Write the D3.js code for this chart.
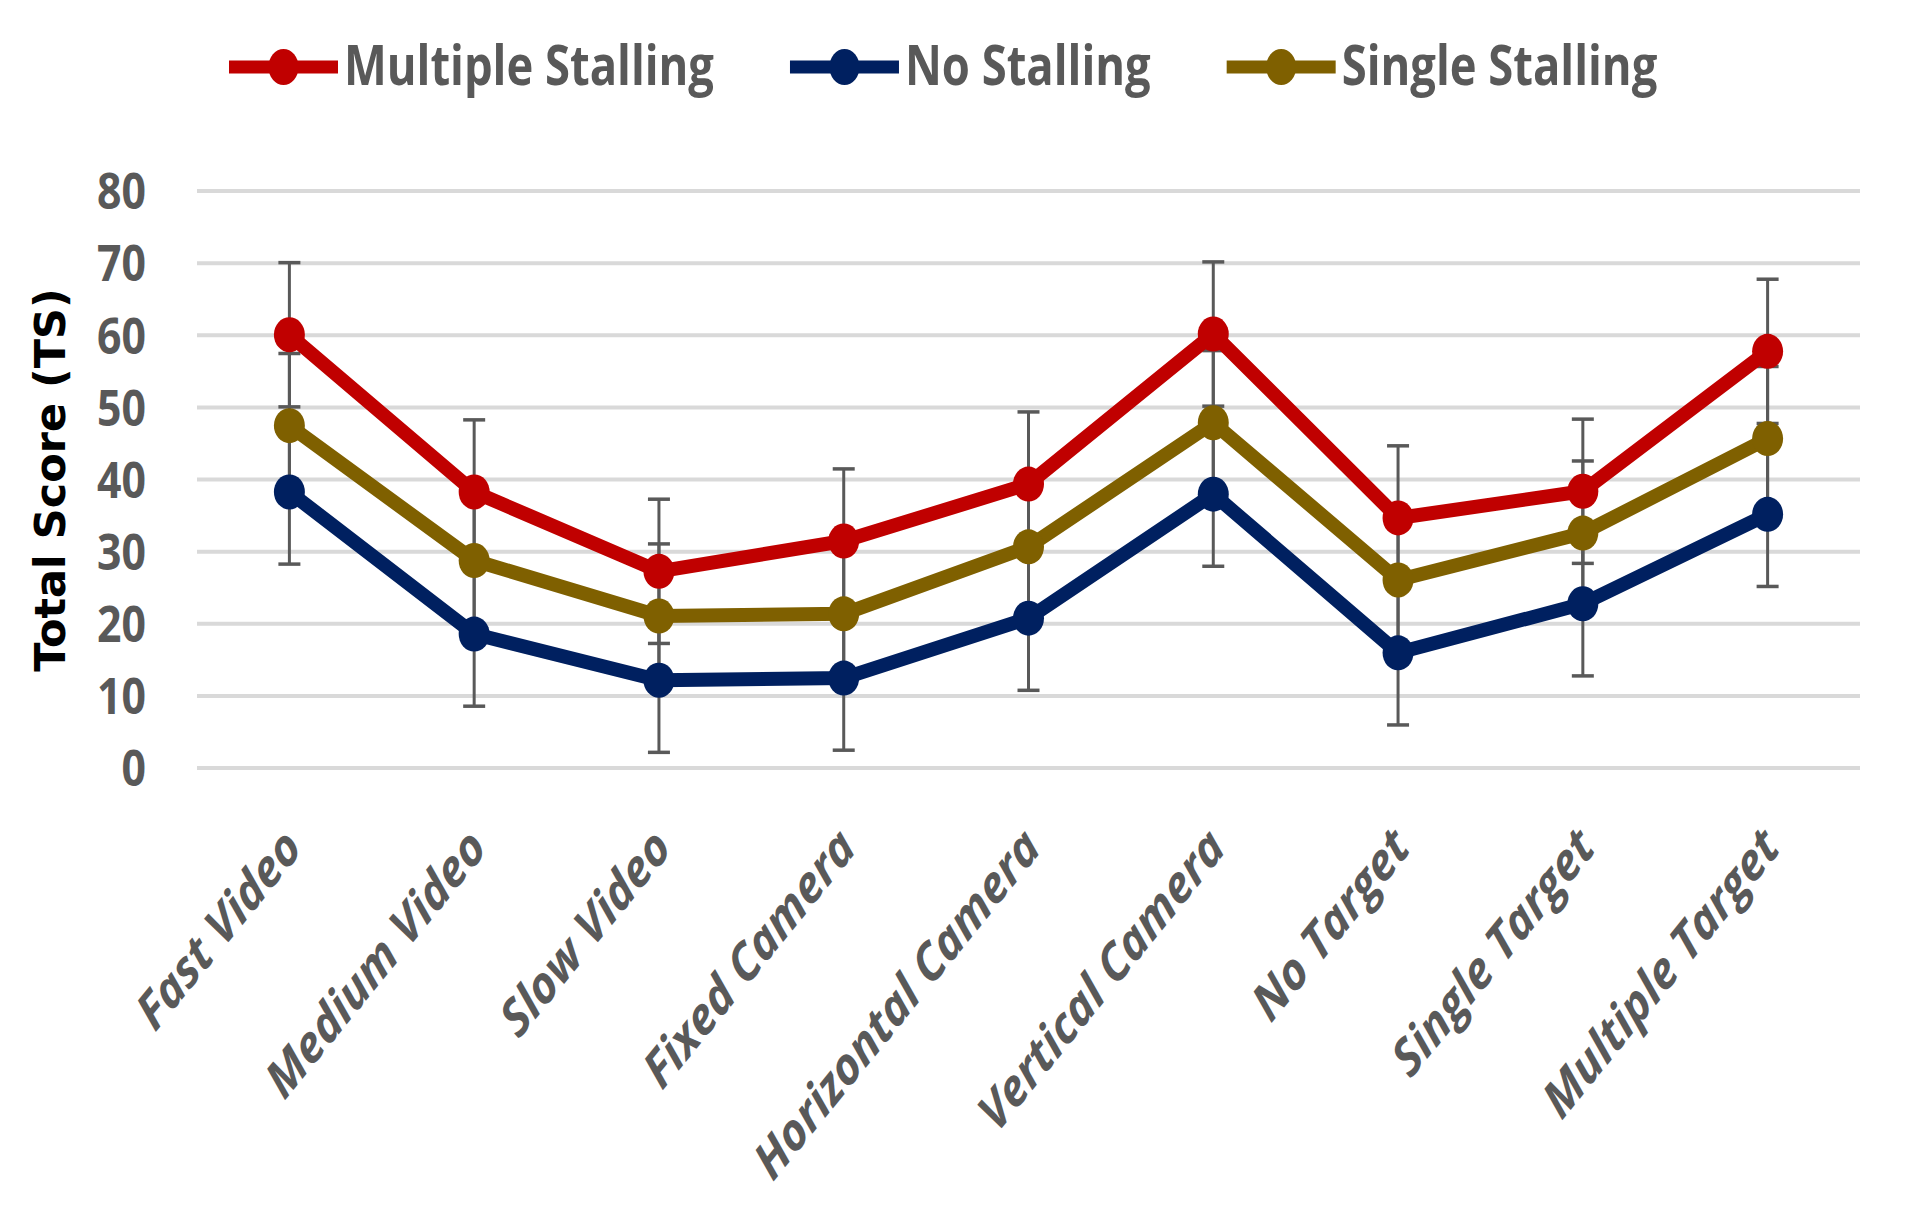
<!DOCTYPE html>
<html>
<head>
<meta charset="utf-8">
<script src="https://cdn.jsdelivr.net/npm/d3@7"></script>
<style>
  body { margin: 0; background: #fff; }
  svg { display: block; }
</style>
</head>
<body>
<svg id="chart"></svg>
<script>
// data
const categories = ["Fast Video", "Medium Video", "Slow Video", "Fixed Camera",
    "Horizontal Camera", "Vertical Camera", "No Target", "Single Target", "Multiple Target"];
const seriesNames = ["Multiple Stalling", "No Stalling", "Single Stalling"];
const multipleStalling = [60.0, 38.2, 27.2, 31.4, 39.3, 60.1, 34.6, 38.3, 57.7];
const noStalling = [38.2, 18.5, 12.1, 12.4, 20.7, 37.9, 15.9, 22.7, 35.1];
const singleStalling = [47.4, 28.7, 21.0, 21.3, 30.6, 47.8, 26.0, 32.5, 45.6];
const errMultiple = [10, 10, 10, 10, 10, 10, 10, 10, 10];
const errNo = [10, 10, 10, 10, 10, 10, 10, 10, 10];
const errSingle = [10, 10, 10, 10, 10, 10, 10, 10, 10];
const yTicks = [0, 10, 20, 30, 40, 50, 60, 70, 80];

const colors = ["#C00000", "#002060", "#7F6000"];
const textGray = "#595959";
const sx = 0.84; // the original text is a little narrow

const series = seriesNames.map((name, i) => ({
    name: name,
    color: colors[i],
    values: [multipleStalling, noStalling, singleStalling][i],
    err: [errMultiple, errNo, errSingle][i]
}));

const W = 1920, H = 1211;
const plot = { left: 197, right: 1860, top: 190.5, bottom: 767.5 };

const svg = d3.select("#chart").attr("width", W).attr("height", H);

const x = d3.scaleBand().domain(categories).range([plot.left, plot.right]);
const y = d3.scaleLinear().domain([0, 80]).range([plot.bottom, plot.top]);
const cx = d => x(d) + x.bandwidth() / 2;

// gridlines + y labels
const yAxis = d3.axisLeft(y)
    .tickValues(yTicks)
    .tickSize(-(plot.right - plot.left))
    .tickPadding(0);

const yg = svg.append("g")
    .attr("transform", `translate(${plot.left},0)`)
    .call(yAxis);
yg.select(".domain").remove();
yg.selectAll(".tick line")
    .attr("stroke", "#d9d9d9")
    .attr("stroke-width", 4);
yg.selectAll(".tick text")
    .attr("x", -51 / sx)
    .attr("dy", "0.36em")
    .attr("transform", `scale(${sx},1)`)
    .attr("text-anchor", "end")
    .attr("fill", textGray)
    .attr("font-family", "'Open Sans', sans-serif")
    .attr("font-weight", "bold")
    .attr("font-size", 51);

// y title
svg.append("text")
    .attr("transform", "translate(65,480) rotate(-90)")
    .attr("text-anchor", "middle")
    .attr("font-family", "'DejaVu Sans', sans-serif")
    .attr("font-weight", "bold")
    .attr("font-size", 43)
    .attr("fill", "#000")
    .text("Total Score (TS)");

// x labels
svg.append("g").selectAll("text")
    .data(categories)
    .join("text")
    .attr("transform", d => `translate(${cx(d) + 14},850) scale(${sx},1) rotate(-46)`)
    .attr("text-anchor", "end")
    .attr("font-family", "'Open Sans', sans-serif")
    .attr("font-weight", "bold")
    .attr("font-style", "italic")
    .attr("font-size", 52)
    .attr("fill", textGray)
    .text(d => d);

// error bars
const capW = 11;
const eg = svg.append("g")
    .attr("stroke", "#595959")
    .attr("stroke-width", 3);
series.forEach(s => {
    const g = eg.append("g");
    categories.forEach((c, i) => {
        const v = s.values[i], e = s.err[i];
        g.append("line")
            .attr("x1", cx(c)).attr("x2", cx(c))
            .attr("y1", y(v + e)).attr("y2", y(v - e));
        [v + e, v - e].forEach(t => {
            g.append("line")
                .attr("x1", cx(c) - capW).attr("x2", cx(c) + capW)
                .attr("y1", y(t)).attr("y2", y(t))
                .attr("stroke-width", 3.5);
        });
    });
});

// lines
const line = d3.line()
    .x((d, i) => cx(categories[i]))
    .y(d => y(d));

series.forEach(s => {
    svg.append("path")
        .attr("d", line(s.values))
        .attr("fill", "none")
        .attr("stroke", s.color)
        .attr("stroke-width", 14)
        .attr("stroke-linejoin", "round");
});

// markers
series.forEach(s => {
    svg.append("g").selectAll("ellipse")
        .data(s.values)
        .join("ellipse")
        .attr("cx", (d, i) => cx(categories[i]))
        .attr("cy", d => y(d))
        .attr("rx", 15.5)
        .attr("ry", 17.5)
        .attr("fill", s.color);
});

// legend
const legend = svg.append("g");
const lsx = 0.81;
let lx = 229;
const legY = 67, lineLen = 109;
series.forEach(s => {
    const item = legend.append("g");
    item.append("line")
        .attr("x1", lx).attr("x2", lx + lineLen)
        .attr("y1", legY).attr("y2", legY)
        .attr("stroke", s.color)
        .attr("stroke-width", 13);
    item.append("ellipse")
        .attr("cx", lx + lineLen / 2).attr("cy", legY)
        .attr("rx", 15).attr("ry", 18)
        .attr("fill", s.color);
    const tx = lx + lineLen + 6;
    const t = item.append("text")
        .attr("transform", `translate(${tx},85) scale(${lsx},1)`)
        .attr("font-family", "'Open Sans', sans-serif")
        .attr("font-weight", "bold")
        .attr("font-size", 56)
        .attr("fill", textGray)
        .text(s.name);
    lx = tx + t.node().getComputedTextLength() * lsx + 76;
});
</script>
</body>
</html>
